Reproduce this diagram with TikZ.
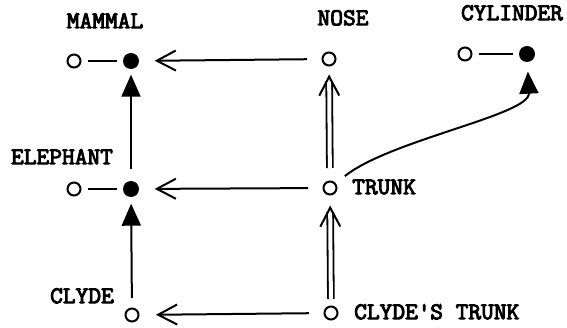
\documentclass[tikz,border=0pt]{standalone}
\usepackage{fontspec}
\newfontfamily\lblfont{Latin Modern Mono}[FakeBold=4,FakeStretch=1.03]
\usetikzlibrary{arrows.meta}
\begin{document}
\begin{tikzpicture}[x=1pt,y=-1pt,
  opn/.style={circle,draw,line width=2pt,minimum size=13pt,inner sep=0pt},
  fld/.style={circle,fill,minimum size=16pt,inner sep=0pt},
  lbl/.style={font=\fontsize{24}{24}\lblfont,inner sep=0pt,text height=12.4pt,text depth=0pt},
  ln/.style={line width=2pt},
  bar/.style={ln,-{Straight Barb[length=19pt,width=20pt,line width=2pt]}},
  tri/.style={ln,-{Triangle[length=22pt,width=19pt]}},
  dbl/.style={line width=1.8pt,double distance=4pt},
]
\useasboundingbox (0,0) rectangle (567,328);
% nodes
\node[opn] (m0) at (74,61) {};
\node[fld] (m1) at (131,61) {};
\node[opn] (e0) at (74,189) {};
\node[fld] (e1) at (131,189) {};
\node[opn] (cl) at (132,315) {};
\node[opn] (nose) at (329,59) {};
\node[opn] (trunk) at (330,188) {};
\node[opn] (ct) at (331,313) {};
\node[opn] (cy0) at (465,54) {};
\node[fld] (cy1) at (527,54) {};
% labels
\node[lbl] (lm) at (105,22) {MAMMAL};
\node[lbl] (ln) at (343,19) {NOSE};
\node[lbl] (lc) at (512,14) {CYLINDER};
\node[lbl] (le) at (62,158) {ELEPHANT};
\node[lbl] (lcl) at (82,297) {CLYDE};
\node[lbl,anchor=west] (lt) at (352,188) {TRUNK};
\node[lbl,anchor=west] (lct) at (354,313) {CLYDE\textquotesingle S TRUNK};
% short links
\draw[ln,shorten <=6pt,shorten >=5.5pt] (m0) -- (m1);
\draw[ln,shorten <=6pt,shorten >=5.5pt] (e0) -- (e1);
\draw[ln,shorten <=6pt,shorten >=5.5pt] (cy0) -- (cy1);
% horizontal arrows
\draw[bar,shorten <=14.5pt,shorten >=15.5pt] (nose) -- (m1);
\draw[bar,shorten <=14.5pt,shorten >=15.5pt] (trunk) -- (e1);
\draw[bar,shorten <=14.5pt,shorten >=16.5pt] (ct) -- (cl);
% vertical filled arrows
\draw[tri,shorten <=11.5pt,shorten >=5.5pt] (e1) -- (m1);
\draw[tri,shorten <=9.5pt,shorten >=6.5pt] (cl) -- (e1);
% double arrows
\draw[dbl,shorten <=12.5pt,shorten >=14.5pt] (trunk) -- (nose);
\draw[bar,shorten <=104pt,shorten >=8pt] (trunk) -- (nose);
\draw[dbl,shorten <=6.5pt,shorten >=16.5pt] (ct) -- (trunk);
\draw[bar,shorten <=97pt,shorten >=10pt] (ct) -- (trunk);
% curve
\draw[tri,shorten <=11.5pt,shorten >=9.5pt] (trunk) .. controls (390,140) and (530,115) .. (cy1);
\end{tikzpicture}
\end{document}
